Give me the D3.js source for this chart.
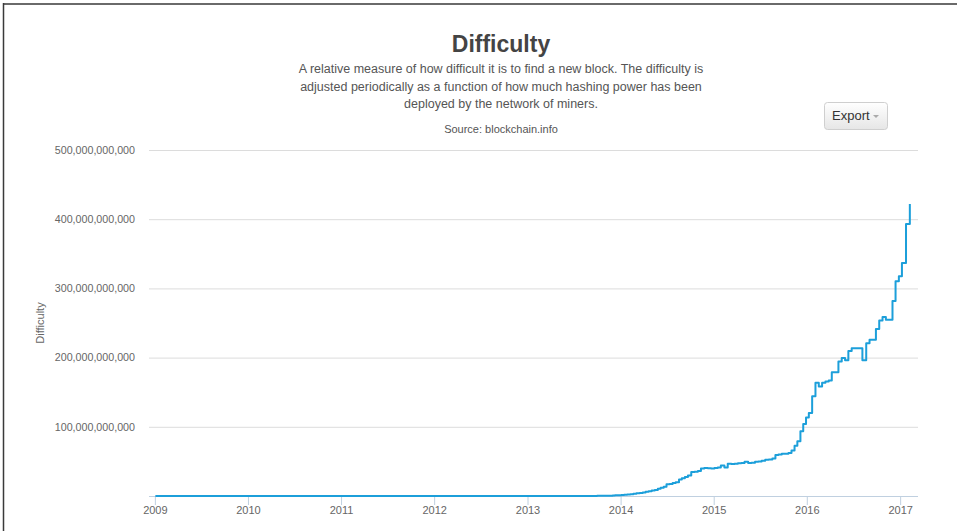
<!DOCTYPE html>
<html lang="en">
<head>
    <meta charset="UTF-8">
    <title>Difficulty</title>
    <script src="https://d3js.org/d3.v7.min.js"></script>
    <style>
        html, body { margin: 0; padding: 0; background: #fff; }
        svg { display: block; font-family: "Liberation Sans", Arial, Helvetica, sans-serif; }
    </style>
</head>
<body>
    <svg id="chart" width="957" height="531"></svg>
    <script>
        // difficulty adjustments, values in billions (1e9)
        const dates = [
            "2009-01-03", "2010-01-01", "2010-07-01", "2011-01-01", "2011-07-01", "2012-01-01", "2012-07-01",
            "2013-01-01", "2013-04-01", "2013-06-01", "2013-07-01", "2013-08-01", "2013-09-01", "2013-10-01",
            "2013-11-01", "2013-12-01", "2013-12-10", "2013-12-22",
            "2014-01-04", "2014-01-15", "2014-01-27", "2014-02-08", "2014-02-20", "2014-03-04", "2014-03-17",
            "2014-03-29", "2014-04-09", "2014-04-21", "2014-05-03", "2014-05-15", "2014-05-27", "2014-06-07",
            "2014-06-19", "2014-06-30", "2014-07-12", "2014-07-24", "2014-08-05", "2014-08-18", "2014-08-29",
            "2014-09-10", "2014-09-22", "2014-10-05", "2014-10-18", "2014-10-31", "2014-11-12", "2014-11-25",
            "2014-12-09", "2014-12-22",
            "2015-01-04", "2015-01-17", "2015-01-29", "2015-02-12", "2015-02-25", "2015-03-11", "2015-03-24",
            "2015-04-06", "2015-04-19", "2015-05-02", "2015-05-16", "2015-05-29", "2015-06-12", "2015-06-25",
            "2015-07-08", "2015-07-22", "2015-08-05", "2015-08-19", "2015-08-31", "2015-09-12", "2015-09-25",
            "2015-10-08", "2015-10-21", "2015-11-02", "2015-11-14", "2015-11-25", "2015-12-07", "2015-12-18",
            "2015-12-29",
            "2016-01-09", "2016-01-22", "2016-02-04", "2016-02-17", "2016-03-01", "2016-03-14", "2016-03-27",
            "2016-04-08", "2016-04-21", "2016-05-04", "2016-05-17", "2016-05-30", "2016-06-12", "2016-06-25",
            "2016-07-09", "2016-07-24", "2016-08-06", "2016-08-21", "2016-09-03", "2016-09-16", "2016-09-28",
            "2016-10-11", "2016-10-24", "2016-11-06", "2016-11-19", "2016-12-02", "2016-12-14", "2016-12-27",
            "2017-01-08", "2017-01-24", "2017-02-08"
        ];
        const difficulty = [
            0.000000001, 0.0000012, 0.0000035, 0.000015, 0.0013, 0.0013, 0.0019,
            0.0033, 0.0077, 0.015, 0.026, 0.050, 0.112, 0.267,
            0.51, 0.71, 0.91, 1.18,
            1.42, 1.79, 2.19, 2.62, 3.13, 3.81, 4.25,
            5.0, 6.12, 6.98, 8.0, 8.85, 10.46, 11.76,
            13.46, 16.82, 17.34, 18.74, 19.73, 23.84, 25.6,
            27.43, 29.57, 34.66, 35.0, 35.99, 39.6, 40.3,
            40.0, 39.6,
            40.6, 41.3, 43.97, 41.27, 46.68, 46.13, 46.7,
            47.43, 47.59, 49.4, 47.6, 47.9, 49.4, 49.7,
            51.1, 52.3, 52.7, 54.3, 59.3, 59.8, 60.9,
            60.9, 62.3, 65.8, 72.7, 79.1, 93.4, 103.9,
            113.4,
            120.0, 144.1, 163.5, 158.4, 163.5, 165.5, 166.9,
            178.7, 178.7, 194.3, 199.3, 196.1, 209.4, 213.5,
            213.4, 213.4, 196.3, 220.7, 225.8, 225.8, 241.2,
            253.6, 258.5, 254.6, 254.6, 281.8, 310.3, 317.7,
            336.7, 392.9, 422.0
        ];
        const yTicks = [100, 200, 300, 400, 500];
        const xTicks = ["2009", "2010", "2011", "2012", "2013", "2014", "2015", "2016", "2017"];
        const subtitle = [
            "A relative measure of how difficult it is to find a new block. The difficulty is",
            "adjusted periodically as a function of how much hashing power has been",
            "deployed by the network of miners."
        ];

        const svg = d3.select('#chart');
        const parse = d3.timeParse('%Y-%m-%d');
        const data = dates.map((d, i) => ({date: parse(d), value: difficulty[i]}));

        const plot = {left: 149, right: 918, top: 150, bottom: 496};

        const x = d3.scaleTime()
            .domain([parse('2008-12-09'), parse('2017-03-12')])
            .range([plot.left, plot.right]);
        const y = d3.scaleLinear()
            .domain([0, 500])
            .range([plot.bottom, plot.top]);

        // frame
        svg.append('line').attr('x1', 3).attr('x2', 957).attr('y1', 4).attr('y2', 4)
            .attr('stroke', '#6a6a6a').attr('stroke-width', 2);
        svg.append('line').attr('x1', 3.5).attr('x2', 3.5).attr('y1', 3).attr('y2', 531)
            .attr('stroke', '#3a3a3a').attr('stroke-width', 1.5);

        // titles
        svg.append('text')
            .attr('x', 501).attr('y', 52)
            .attr('text-anchor', 'middle')
            .attr('font-size', 23).attr('font-weight', 'bold')
            .attr('fill', '#444')
            .text('Difficulty');

        svg.append('text')
            .attr('text-anchor', 'middle')
            .attr('font-size', 12.5).attr('fill', '#555')
            .selectAll('tspan')
            .data(subtitle)
            .join('tspan')
            .attr('x', 501)
            .attr('y', (d, i) => 73 + i * 17.5)
            .text(d => d);

        svg.append('text')
            .attr('x', 501).attr('y', 133)
            .attr('text-anchor', 'middle')
            .attr('font-size', 11).attr('fill', '#555')
            .text('Source: blockchain.info');

        // export button
        const grad = svg.append('defs').append('linearGradient')
            .attr('id', 'btn').attr('x1', 0).attr('x2', 0).attr('y1', 0).attr('y2', 1);
        grad.append('stop').attr('offset', '0%').attr('stop-color', '#ffffff');
        grad.append('stop').attr('offset', '100%').attr('stop-color', '#e6e6e6');
        const btn = svg.append('g').attr('transform', 'translate(824,102)');
        btn.append('rect').attr('x', 0.5).attr('y', 0.5).attr('width', 63).attr('height', 27)
            .attr('rx', 3).attr('fill', 'url(#btn)').attr('stroke', '#cfcfcf');
        btn.append('text').attr('x', 8).attr('y', 18)
            .attr('font-size', 13).attr('fill', '#333').text('Export');
        btn.append('path').attr('d', 'M49,13 L55,13 L52,16 Z').attr('fill', '#aaa');

        // grid
        const grid = svg.append('g')
            .attr('transform', `translate(${plot.left},0)`)
            .call(d3.axisLeft(y).tickValues(yTicks).tickSize(-(plot.right - plot.left)).tickFormat(''));
        grid.select('.domain').remove();
        grid.selectAll('line').attr('stroke', '#dcdcdc');

        // y labels
        svg.append('g')
            .selectAll('text')
            .data(yTicks)
            .join('text')
            .attr('x', 135)
            .attr('y', d => y(d))
            .attr('dy', '0.35em')
            .attr('text-anchor', 'end')
            .attr('font-size', 10.7)
            .attr('fill', '#666')
            .text(d => d3.format(',')(d * 1e9));

        svg.append('text')
            .attr('transform', 'translate(44,323) rotate(-90)')
            .attr('text-anchor', 'middle')
            .attr('font-size', 11)
            .attr('fill', '#666')
            .text('Difficulty');

        // x axis
        const xAxis = svg.append('g')
            .attr('transform', `translate(0,${plot.bottom})`)
            .call(d3.axisBottom(x)
                .tickValues(xTicks.map(t => parse(t + '-01-01')))
                .tickFormat(d3.timeFormat('%Y'))
                .tickSize(9)
                .tickPadding(1));
        xAxis.select('.domain').attr('stroke', '#c0d0e0').attr('d', `M${plot.left},0.5H${plot.right}`);
        xAxis.selectAll('.tick line').attr('stroke', '#c0d0e0');
        xAxis.selectAll('.tick text')
            .attr('font-size', 11).attr('fill', '#666')
            .attr('font-family', '"Liberation Sans", Arial, sans-serif');

        // series
        const line = d3.line()
            .x(d => x(d.date))
            .y(d => y(d.value))
            .curve(d3.curveStepAfter);

        svg.append('path')
            .datum(data)
            .attr('fill', 'none')
            .attr('stroke', '#1c9fda')
            .attr('stroke-width', 2)
            .attr('stroke-linejoin', 'round')
            .attr('d', line);
    </script>
</body>
</html>
